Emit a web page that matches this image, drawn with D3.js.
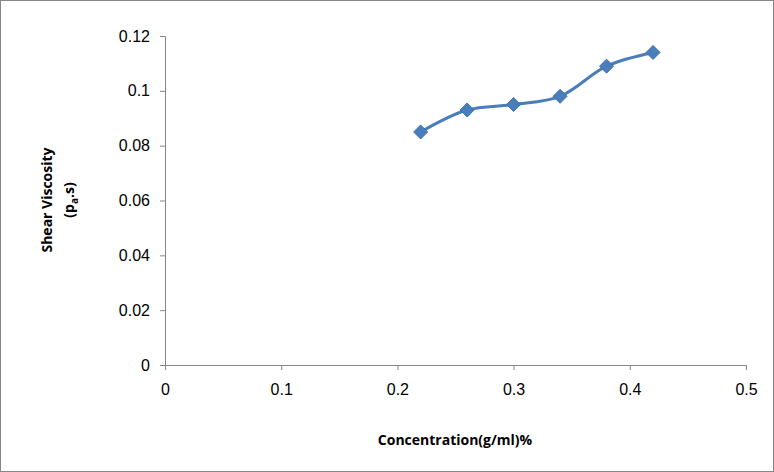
<!DOCTYPE html>
<html lang="en">
<head>
<meta charset="UTF-8">
<script src="https://d3js.org/d3.v7.min.js"></script>
<style>
  body { margin: 0; background: #fff; }
  .axis text { font-family: "Liberation Sans", Arial, sans-serif; font-size: 16px; fill: #000; }
  .axis path, .axis line { stroke: #868686; }
  .lbl { font-family: "Open Sans", sans-serif; font-weight: bold; font-size: 14px; fill: #000; }
</style>
</head>
<body>
<div id="chart"></div>
<script>
// data
const concentration = [0.22, 0.26, 0.30, 0.34, 0.38, 0.42];
const viscosity = [0.085, 0.093, 0.095, 0.098, 0.109, 0.114];
const xTicks = [0, 0.1, 0.2, 0.3, 0.4, 0.5];
const yTicks = [0, 0.02, 0.04, 0.06, 0.08, 0.1, 0.12];

const W = 774, H = 472;
const margin = { left: 165, right: 28, top: 36, bottom: 107 };

const svg = d3.select("#chart").append("svg")
    .attr("width", W).attr("height", H);

svg.append("rect")
    .attr("x", 0.5).attr("y", 0.5)
    .attr("width", W - 1).attr("height", H - 1)
    .attr("fill", "#fff").attr("stroke", "#868686");

const x = d3.scaleLinear().domain([0, 0.5]).range([margin.left, W - margin.right]);
const y = d3.scaleLinear().domain([0, 0.12]).range([H - margin.bottom, margin.top]);

svg.append("g").attr("class", "axis")
    .attr("transform", `translate(0,${H - margin.bottom})`)
    .call(d3.axisBottom(x).tickValues(xTicks).tickFormat(d => String(d)).tickSize(5).tickPadding(14));

svg.append("g").attr("class", "axis")
    .attr("transform", `translate(${margin.left},0)`)
    .call(d3.axisLeft(y).tickValues(yTicks).tickFormat(d => String(+d.toFixed(2))).tickSize(5).tickPadding(10));

const pts = concentration.map((c, i) => [c, viscosity[i]]);

svg.append("path")
    .datum(pts)
    .attr("fill", "none")
    .attr("stroke", "#4a7ebb")
    .attr("stroke-width", 3)
    .attr("d", d3.line().x(d => x(d[0])).y(d => y(d[1])).curve(d3.curveCatmullRom.alpha(0.5)));

svg.selectAll(".pt")
    .data(pts)
    .enter().append("path")
    .attr("class", "pt")
    .attr("transform", d => `translate(${x(d[0])},${y(d[1])})`)
    .attr("d", "M0,-7L7,0L0,7L-7,0Z")
    .attr("fill", "#4a7ebb")
    .attr("stroke", "#3f70aa");

svg.append("text").attr("class", "lbl")
    .attr("x", 455).attr("y", 445).attr("text-anchor", "middle")
    .text("Concentration(g/ml)%");

const yl = svg.append("g").attr("transform", "translate(52,200) rotate(-90)");
yl.append("text").attr("class", "lbl").attr("text-anchor", "middle").text("Shear Viscosity");
const t2 = yl.append("text").attr("class", "lbl").attr("text-anchor", "middle").attr("y", 22);
t2.append("tspan").text("(p");
t2.append("tspan").attr("dy", 4).attr("font-size", 10).text("a");
t2.append("tspan").attr("dy", -4).text(".s)");
</script>
</body>
</html>
